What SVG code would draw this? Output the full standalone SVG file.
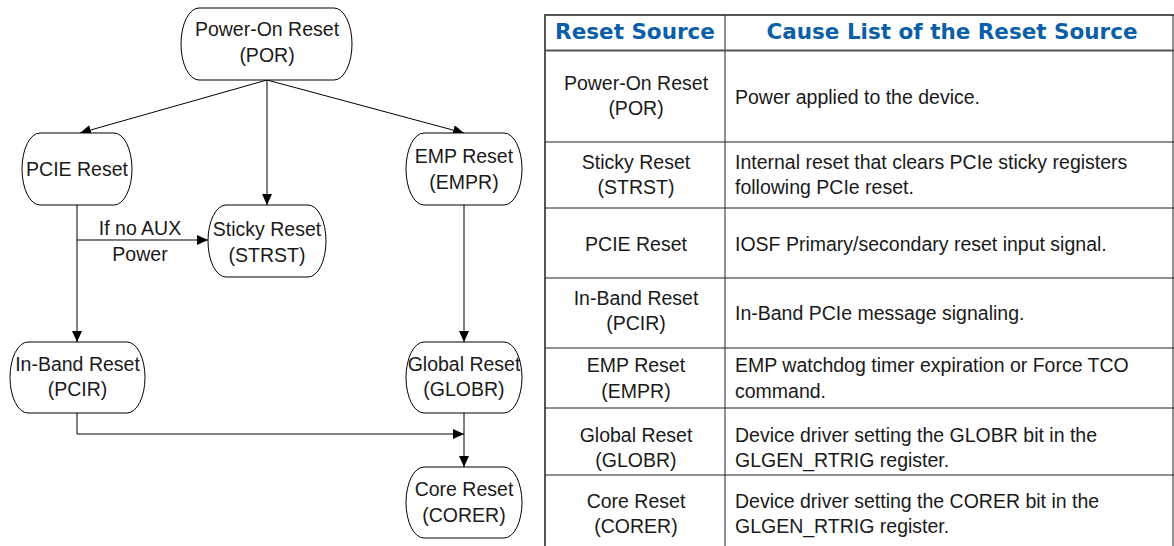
<svg xmlns="http://www.w3.org/2000/svg" width="1174" height="546" viewBox="0 0 1174 546">
<style>
text{font-family:"Liberation Sans",Arial,sans-serif;font-size:19.5px;fill:#1a1a1a}
.c{text-anchor:middle}
.h{font-family:"DejaVu Sans",Verdana,sans-serif;font-weight:bold;font-size:21.5px;fill:#0b5fa8;text-anchor:middle}
.n{fill:#fff;stroke:#000;stroke-width:1}
.e{fill:none;stroke:#000;stroke-width:1}
.t{stroke:#222;stroke-width:1}
.tb{stroke:#555;stroke-width:2}
</style>
<defs>
<marker id="ah" markerUnits="userSpaceOnUse" markerWidth="12" markerHeight="10" refX="11" refY="5" orient="auto">
<path d="M0,0 L11,5 L0,10 z" fill="#000"/>
</marker>
</defs>
<rect width="1174" height="546" fill="#fff"/>
<g id="connectors">
<path class="e" d="M267,80 L80,133" marker-end="url(#ah)"/>
<path class="e" d="M267,80 V205" marker-end="url(#ah)"/>
<path class="e" d="M267,80 L464,133" marker-end="url(#ah)"/>
<path class="e" d="M77,205 V342" marker-end="url(#ah)"/>
<path class="e" d="M77,240 H208" marker-end="url(#ah)"/>
<path class="e" d="M464,205 V342" marker-end="url(#ah)"/>
<path class="e" d="M77,413 V434 H464" marker-end="url(#ah)"/>
<path class="e" d="M464,413 V467" marker-end="url(#ah)"/>
<text class="c" x="140" y="235">If no AUX</text>
<text class="c" x="140" y="261">Power</text>
</g>
<g id="por">
<rect class="n" x="181" y="8" width="171" height="72" rx="18" ry="36"/>
<text class="c" x="267" y="36">Power-On Reset</text>
<text class="c" x="267" y="62">(POR)</text>
</g>
<g id="pcie">
<rect class="n" x="22" y="133" width="110" height="72" rx="18" ry="36"/>
<text class="c" x="77" y="176">PCIE Reset</text>
</g>
<g id="sticky">
<rect class="n" x="208" y="205" width="118" height="72" rx="18" ry="36"/>
<text class="c" x="267" y="236">Sticky Reset</text>
<text class="c" x="267" y="262">(STRST)</text>
</g>
<g id="emp">
<rect class="n" x="406" y="133" width="116" height="72" rx="18" ry="36"/>
<text class="c" x="464" y="163">EMP Reset</text>
<text class="c" x="464" y="189">(EMPR)</text>
</g>
<g id="inband">
<rect class="n" x="10" y="342" width="135" height="71" rx="18" ry="35.5"/>
<text class="c" x="77.5" y="371">In-Band Reset</text>
<text class="c" x="77.5" y="396">(PCIR)</text>
</g>
<g id="global">
<rect class="n" x="406" y="342" width="116" height="71" rx="18" ry="35.5"/>
<text class="c" x="464" y="371">Global Reset</text>
<text class="c" x="464" y="396">(GLOBR)</text>
</g>
<g id="core">
<rect class="n" x="406" y="467" width="116" height="71" rx="18" ry="35.5"/>
<text class="c" x="464" y="496">Core Reset</text>
<text class="c" x="464" y="522">(CORER)</text>
</g>
<g id="table">
<line class="tb" x1="544" y1="15" x2="1174" y2="15"/>
<line class="tb" x1="545" y1="14" x2="545" y2="546"/>
<line class="t" x1="1173" y1="15" x2="1173" y2="546"/>
<line class="t" x1="725" y1="15" x2="725" y2="546"/>
<line class="tb" x1="545" y1="50.5" x2="1174" y2="50.5"/>
<line class="t" x1="545" y1="142" x2="1174" y2="142"/>
<line class="t" x1="545" y1="208" x2="1174" y2="208"/>
<line class="t" x1="545" y1="278" x2="1174" y2="278"/>
<line class="t" x1="545" y1="348" x2="1174" y2="348"/>
<line class="t" x1="545" y1="408" x2="1174" y2="408"/>
<line class="t" x1="545" y1="475" x2="1174" y2="475"/>
<text class="h" x="635" y="39">Reset Source</text>
<text class="h" x="952" y="39">Cause List of the Reset Source</text>
<text class="c" x="636" y="90">Power-On Reset</text>
<text class="c" x="636" y="115">(POR)</text>
<text x="735" y="104">Power applied to the device.</text>
<text class="c" x="636" y="169">Sticky Reset</text>
<text class="c" x="636" y="194">(STRST)</text>
<text x="735" y="169">Internal reset that clears PCIe sticky registers</text>
<text x="735" y="194">following PCIe reset.</text>
<text class="c" x="636" y="251">PCIE Reset</text>
<text x="735" y="251">IOSF Primary/secondary reset input signal.</text>
<text class="c" x="636" y="305">In-Band Reset</text>
<text class="c" x="636" y="330">(PCIR)</text>
<text x="735" y="320">In-Band PCIe message signaling.</text>
<text class="c" x="636" y="372">EMP Reset</text>
<text class="c" x="636" y="398">(EMPR)</text>
<text x="735" y="372">EMP watchdog timer expiration or Force TCO</text>
<text x="735" y="398">command.</text>
<text class="c" x="636" y="442">Global Reset</text>
<text class="c" x="636" y="467">(GLOBR)</text>
<text x="735" y="442">Device driver setting the GLOBR bit in the</text>
<text x="735" y="467">GLGEN_RTRIG register.</text>
<text class="c" x="636" y="508">Core Reset</text>
<text class="c" x="636" y="533">(CORER)</text>
<text x="735" y="508">Device driver setting the CORER bit in the</text>
<text x="735" y="533">GLGEN_RTRIG register.</text>
</g>
</svg>
